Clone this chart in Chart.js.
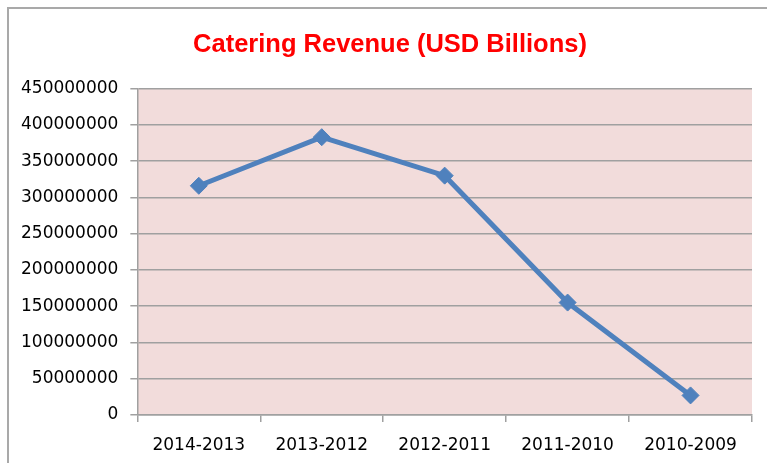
<!DOCTYPE html>
<html>
<head>
<meta charset="utf-8">
<script src="https://cdn.jsdelivr.net/npm/chart.js@4"></script>
<style>
  html, body { margin: 0; padding: 0; background: #ffffff; overflow: hidden; }
  #wrap { position: relative; width: 767px; height: 463px; }
  #frame { position: absolute; left: 7px; top: 7px; width: 900px; height: 600px; border: 2px solid #a9a9a9; box-sizing: border-box; }
  #c { position: absolute; left: 0; top: 0; }
</style>
</head>
<body>
<div id="wrap">
  <div id="frame"></div>
  <canvas id="c" width="767" height="463"></canvas>
</div>
<script>
const titleText = 'Catering Revenue (USD Billions)';
const categories = ['2014-2013', '2013-2012', '2012-2011', '2011-2010', '2010-2009'];
const revenue = [316000000, 383000000, 330000000, 155000000, 27000000];
const yMin = 0;
const yMax = 450000000;
const yStep = 50000000;

const plotBg = {
  id: 'plotBg',
  afterLayout(chart) {
    // centre the title over the framed chart box rather than the padded canvas
    if (chart.titleBlock) { chart.titleBlock.left = 28; }
  },
  beforeDraw(chart) {
    const a = chart.chartArea;
    const ctx = chart.ctx;
    ctx.save();
    ctx.fillStyle = '#f2dcdb';
    ctx.fillRect(a.left, a.top, a.right - a.left, a.bottom - a.top);
    ctx.restore();
  }
};

const tickFont = { family: 'DejaVu Sans', size: 17 };

new Chart(document.getElementById('c'), {
  type: 'line',
  data: {
    labels: categories,
    datasets: [{
      data: revenue,
      borderColor: '#4f81bd',
      backgroundColor: '#4f81bd',
      borderWidth: 5,
      pointStyle: 'rectRot',
      pointRadius: 8.5,
      pointHoverRadius: 8.5,
      pointBorderWidth: 1,
      tension: 0,
      fill: false
    }]
  },
  options: {
    responsive: false,
    animation: false,
    devicePixelRatio: 1,
    layout: { padding: { left: 9, right: 15, top: 0, bottom: 0 } },
    plugins: {
      legend: { display: false },
      tooltip: { enabled: false },
      title: {
        display: true,
        text: titleText,
        color: '#ff0000',
        font: { family: 'Liberation Sans', size: 25.5, weight: 'bold' },
        padding: { top: 30, bottom: 28 }
      }
    },
    scales: {
      x: {
        type: 'category',
        offset: true,
        afterFit: (s) => { s.height = 48; },
        grid: { offset: true, drawOnChartArea: false, drawTicks: true, tickLength: 7, color: '#a0a0a0', lineWidth: 1.5 },
        border: { display: true, color: '#a0a0a0', width: 1.5 },
        ticks: { color: '#000000', font: tickFont, padding: 13, maxRotation: 0, autoSkip: false }
      },
      y: {
        min: yMin,
        max: yMax,
        grid: { color: '#a0a0a0', lineWidth: 1.5, tickLength: 7, drawTicks: true },
        border: { display: true, color: '#a0a0a0', width: 1.5 },
        ticks: {
          stepSize: yStep,
          color: '#000000',
          font: tickFont,
          padding: 12,
          callback: (v) => String(v)
        }
      }
    }
  },
  plugins: [plotBg]
});
</script>
</body>
</html>
